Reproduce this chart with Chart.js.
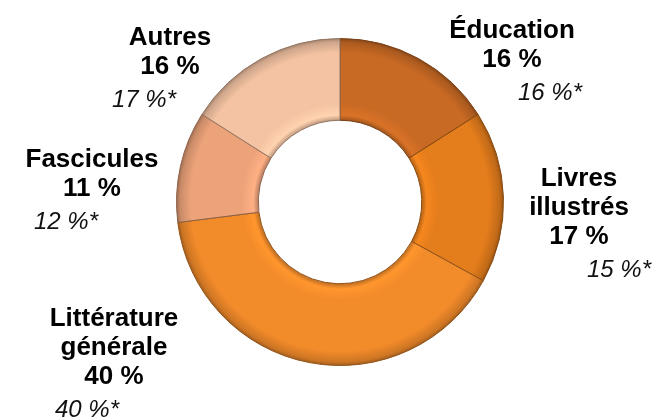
<!DOCTYPE html>
<html>
<head>
<meta charset="utf-8">
<script src="https://cdn.jsdelivr.net/npm/chart.js@4/dist/chart.umd.min.js"></script>
<style>
  html, body { margin:0; padding:0; background:#fff; }
  #wrap { width:655px; height:420px; }
</style>
</head>
<body>
<div id="wrap"><canvas id="graphique" width="655" height="420"></canvas></div>
<script>
// Répartition des ventes par catégorie (sens horaire depuis midi)
const categories = [['Éducation'], ['Livres', 'illustrés'], ['Littérature', 'générale'], ['Fascicules'], ['Autres']];
const parts = [16, 17, 40, 11, 16];          // %
const partsPrecedentes = [16, 15, 40, 12, 17]; // %* (année précédente)

const couleurs = ['#c96a24', '#e47d1c', '#f28b2a', '#eda37a', '#f4c3a3'];

// placement des étiquettes, relatif au centre de l'anneau
const placements = [
  { dx: 172, dy: -164, ital: 38 },
  { dx: 239, dy: -16, ital: 40 },
  { dx: -226, dy: 124, ital: -27 },
  { dx: -248, dy: -35, ital: -26 },
  { dx: -170, dy: -157, ital: -26 }
];

function assombrir(hex, f) {
  const n = parseInt(hex.slice(1), 16);
  const r = Math.round(((n >> 16) & 255) * f), g = Math.round(((n >> 8) & 255) * f), b = Math.round((n & 255) * f);
  return `rgb(${Math.min(r,255)},${Math.min(g,255)},${Math.min(b,255)})`;
}

function degrade(ctx) {
  const base = couleurs[ctx.dataIndex];
  const area = ctx.chart.chartArea;
  if (!area) return base;
  const cx = (area.left + area.right) / 2, cy = (area.top + area.bottom) / 2;
  const R = Math.min(area.right - area.left, area.bottom - area.top) / 2;
  const g = ctx.chart.ctx.createRadialGradient(cx, cy, R * 0.5, cx, cy, R);
  g.addColorStop(0, assombrir(base, 0.8));
  g.addColorStop(0.06, assombrir(base, 1.08));
  g.addColorStop(0.2, base);
  g.addColorStop(0.82, base);
  g.addColorStop(0.95, assombrir(base, 0.85));
  g.addColorStop(1, assombrir(base, 0.65));
  return g;
}

const etiquettes = {
  id: 'etiquettes',
  afterDatasetsDraw(chart) {
    const arc = chart.getDatasetMeta(0).data[0];
    const c = chart.ctx;
    c.save();
    c.textAlign = 'center';
    c.fillStyle = '#000';
    categories.forEach((lignes, i) => {
      const p = placements[i];
      const x = arc.x + p.dx;
      let y = arc.y + p.dy;
      c.font = 'bold 26px "Liberation Sans", Arial, sans-serif';
      lignes.concat([parts[i] + ' %']).forEach((t, k) => {
        c.fillText(t, x, y + k * 29);
      });
      y += lignes.length * 29;
      c.font = 'italic 24px "Liberation Sans", Arial, sans-serif';
      c.fillStyle = '#111';
      c.fillText(partsPrecedentes[i] + ' %*', x + p.ital, y + 33);
      c.fillStyle = '#000';
    });
    c.restore();
  }
};

new Chart(document.getElementById('graphique').getContext('2d'), {
  type: 'doughnut',
  data: {
    labels: categories.map(l => l.join(' ')),
    datasets: [{
      data: parts,
      backgroundColor: degrade,
      borderColor: couleurs.map(c => assombrir(c, 0.6)),
      borderWidth: 1
    }]
  },
  options: {
    responsive: false,
    animation: false,
    cutout: '50%',
    layout: { padding: { top: 38, bottom: 54, left: 176, right: 151 } },
    plugins: { legend: { display: false }, tooltip: { enabled: false } }
  },
  plugins: [etiquettes]
});
</script>
</body>
</html>
